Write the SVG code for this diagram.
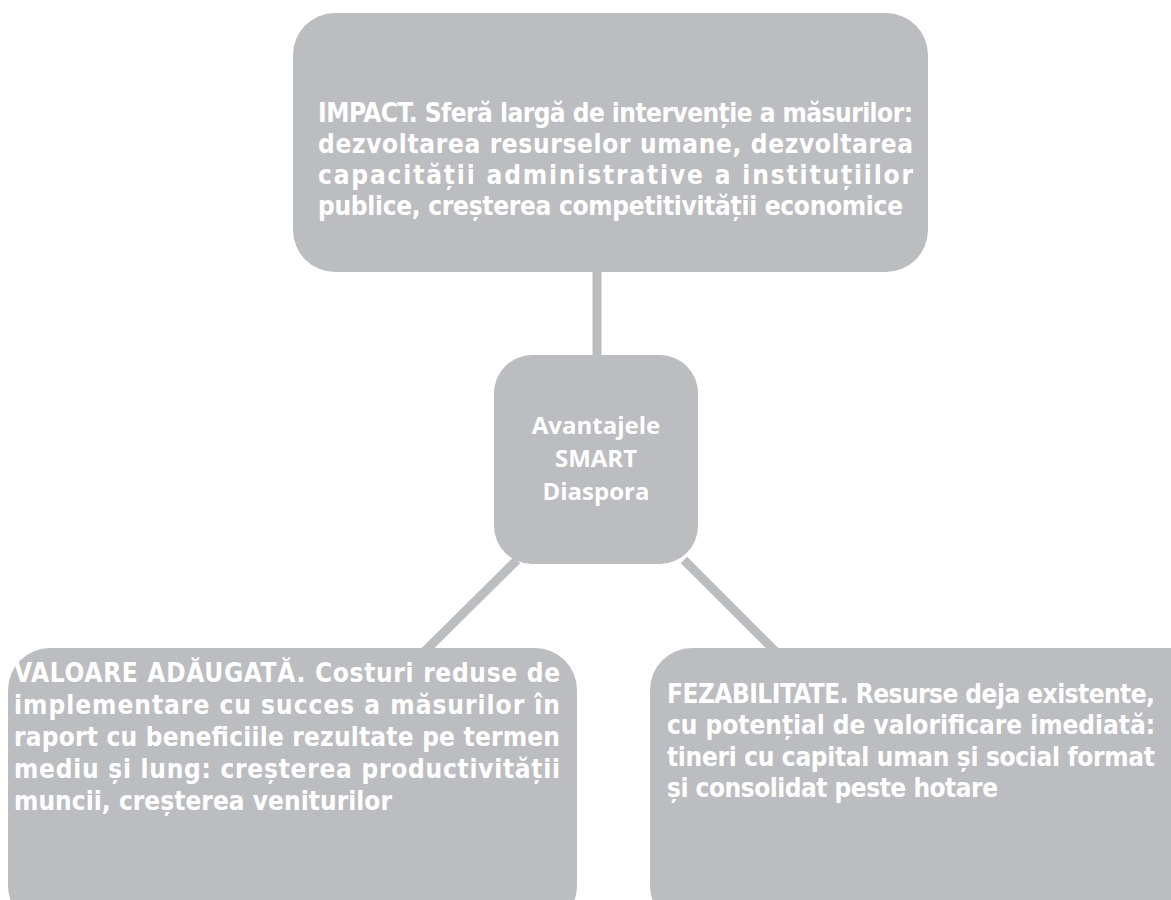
<svg xmlns="http://www.w3.org/2000/svg" width="1171" height="900" viewBox="0 0 1171 900">
<style>
.box{fill:#bcbdc0;}
.con{stroke:#bcbdc0;stroke-width:9;fill:none;stroke-linecap:butt;}
.t{font-family:"DejaVu Sans Condensed","Liberation Sans Narrow","Liberation Sans",sans-serif;font-weight:bold;font-size:26px;fill:#ffffff;}
.h{font-weight:900;}
.c{font-family:"Open Sans","DejaVu Sans",sans-serif;font-weight:bold;font-size:24px;fill:#ffffff;text-anchor:middle;}
</style>
<rect width="1171" height="900" fill="#ffffff"/>
<g id="connectors">
<line class="con" x1="597" y1="270" x2="597" y2="358"/>
<line class="con" x1="517" y1="560" x2="424" y2="652"/>
<line class="con" x1="684" y1="560" x2="776" y2="652"/>
</g>
<g id="node-impact">
<rect class="box" x="293" y="13" width="635" height="259" rx="42" ry="42"/>
<text class="t" x="318" y="122" textLength="595" lengthAdjust="spacing"><tspan class="h">IMPACT.</tspan> Sferă largă de intervenție a măsurilor:</text>
<text class="t" x="318" y="153" textLength="595" lengthAdjust="spacing">dezvoltarea resurselor umane, dezvoltarea</text>
<text class="t" x="318" y="184" textLength="595" lengthAdjust="spacing">capacității administrative a instituțiilor</text>
<text class="t" x="318" y="215" textLength="585" lengthAdjust="spacing">publice, creșterea competitivității economice</text>
</g>
<g id="node-center">
<rect class="box" x="494" y="355" width="204" height="209" rx="38" ry="38"/>
<text class="c" x="596" y="434">Avantajele</text>
<text class="c" x="596" y="467">SMART</text>
<text class="c" x="596" y="500">Diaspora</text>
</g>
<g id="node-valoare">
<rect class="box" x="8" y="648" width="569" height="280" rx="42" ry="42"/>
<text class="t" x="14" y="682" textLength="546" lengthAdjust="spacing"><tspan class="h">VALOARE ADĂUGATĂ.</tspan> Costuri reduse de</text>
<text class="t" x="14" y="714" textLength="546" lengthAdjust="spacing">implementare cu succes a măsurilor în</text>
<text class="t" x="14" y="746" textLength="546" lengthAdjust="spacing">raport cu beneficiile rezultate pe termen</text>
<text class="t" x="14" y="778" textLength="546" lengthAdjust="spacing">mediu și lung: creșterea productivității</text>
<text class="t" x="14" y="810" textLength="378" lengthAdjust="spacing">muncii, creșterea veniturilor</text>
</g>
<g id="node-fezabilitate">
<rect class="box" x="650" y="648" width="560" height="280" rx="42" ry="42"/>
<text class="t" x="667" y="703" textLength="488" lengthAdjust="spacing"><tspan class="h">FEZABILITATE.</tspan> Resurse deja existente,</text>
<text class="t" x="667" y="734" textLength="488" lengthAdjust="spacing">cu potențial de valorificare imediată:</text>
<text class="t" x="667" y="766" textLength="488" lengthAdjust="spacing">tineri cu capital uman și social format</text>
<text class="t" x="667" y="797" textLength="331" lengthAdjust="spacing">și consolidat peste hotare</text>
</g>
</svg>
